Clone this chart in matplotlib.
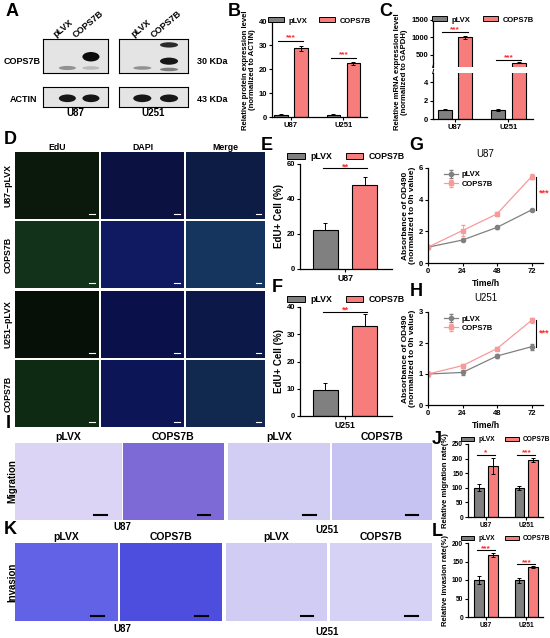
import numpy as np
import matplotlib
matplotlib.use('Agg')
import matplotlib.pyplot as plt
from matplotlib.patches import Patch, Ellipse

plt.rcParams['font.family'] = ['Liberation Sans', 'DejaVu Sans']
plt.rcParams['font.weight'] = 'bold'
plt.rcParams['axes.labelweight'] = 'bold'
plt.rcParams['axes.linewidth'] = 0.9
plt.rcParams['xtick.major.size'] = 2
plt.rcParams['ytick.major.size'] = 2
plt.rcParams['xtick.major.width'] = 0.8
plt.rcParams['ytick.major.width'] = 0.8
plt.rcParams['xtick.labelsize'] = 5.5
plt.rcParams['ytick.labelsize'] = 5.5
plt.rcParams['xtick.major.pad'] = 1.5
plt.rcParams['ytick.major.pad'] = 1.5

# ---- data ----
groups = ['U87', 'U251']
prot_plvx = [1.0, 1.0]
prot_plvx_err = [0.3, 0.3]
prot_cops = [28.7, 22.3]
prot_cops_err = [1.0, 0.6]
prot_sig = ['***', '***']
prot_sig_y = [31.5, 24.5]

mrna_plvx = [1.0, 1.0]
mrna_plvx_err = [0.05, 0.1]
mrna_cops = [1010, 280]
mrna_cops_err = [40, 15]
mrna_sig = ['***', '***']
mrna_sig_y = [1160, 360]

edu_u87 = [22.5, 48.0]
edu_u87_err = [4.0, 4.5]
edu_u251 = [9.5, 33.0]
edu_u251_err = [2.5, 4.5]

time_h = [0, 24, 48, 72]
od_u87_plvx = [1.0, 1.45, 2.25, 3.35]
od_u87_plvx_err = [0.05, 0.08, 0.08, 0.08]
od_u87_cops = [1.0, 2.05, 3.1, 5.45]
od_u87_cops_err = [0.1, 0.35, 0.1, 0.15]
od_u251_plvx = [1.0, 1.05, 1.58, 1.88]
od_u251_plvx_err = [0.05, 0.08, 0.05, 0.1]
od_u251_cops = [1.0, 1.27, 1.82, 2.73]
od_u251_cops_err = [0.05, 0.04, 0.05, 0.07]

mig_plvx = [100, 100]
mig_plvx_err = [12, 6]
mig_cops = [175, 195]
mig_cops_err = [28, 8]
mig_sig = ['*', '***']
mig_sig_y = [214, 214]

inv_plvx = [100, 99]
inv_plvx_err = [12, 6]
inv_cops = [168, 135]
inv_cops_err = [5, 3]
inv_sig = ['***', '***']
inv_sig_y = [181, 143]

GREY = '#808080'
RED = '#f77c7c'
PINK = '#f89a9a'
STAR = '#ff2a2a'

W, H = 550, 638
fig = plt.figure(figsize=(5.5, 6.38), dpi=100)


def px_axes(x0, y0, x1, y1):
    return fig.add_axes([x0 / W, 1 - y1 / H, (x1 - x0) / W, (y1 - y0) / H])


def ftext(x, y, s, **kw):
    kw.setdefault('ha', 'center')
    kw.setdefault('va', 'center')
    fig.text(x / W, 1 - y / H, s, **kw)


def clean(ax):
    ax.spines['top'].set_visible(False)
    ax.spines['right'].set_visible(False)


def legend_bars(ax, y=1.0, fs=5.5):
    h = [Patch(facecolor=GREY, edgecolor='black', lw=0.7),
         Patch(facecolor=RED, edgecolor='black', lw=0.7)]
    ax.legend(h, ['pLVX', 'COPS7B'], ncol=2, loc='center', bbox_to_anchor=(0.5, y),
              frameon=False, fontsize=fs, handlelength=2.0, handleheight=0.6,
              columnspacing=1.6, handletextpad=0.6, borderaxespad=0)


ekw = dict(elinewidth=0.7, capsize=1.6, capthick=0.7, ecolor='black')


def bar_pair(ax, pl, ple, cp, cpe, off, width):
    x = np.arange(len(pl))
    ax.bar(x - off, pl, width, yerr=ple, color=GREY, edgecolor='black', lw=0.8, error_kw=ekw)
    ax.bar(x + off, cp, width, yerr=cpe, color=RED, edgecolor='black', lw=0.8, error_kw=ekw)
    return x


def sig_marks(ax, x, off, ys, marks, dy):
    for xi, yi, m in zip(x, ys, marks):
        ax.plot([xi - off - 0.05, xi + off + 0.05], [yi, yi], color='black', lw=0.8, clip_on=False)
        ax.text(xi, yi + dy, m, color=STAR, ha='center', va='center', fontsize=6, clip_on=False)


# ---- A: western blots ----
# bands: (lane x in 0..4, position from top 0..1, half-height, darkness)
blot_cops = {
    'U87': [(1.5, 0.93, 0.07, 0.35), (2.95, 0.55, 0.16, 1.0), (2.95, 0.93, 0.06, 0.15)],
    'U251': [(1.35, 0.93, 0.06, 0.35), (2.9, 0.15, 0.09, 0.85), (2.9, 0.7, 0.12, 0.95),
             (2.9, 0.98, 0.06, 0.45)],
}
blot_actin = {
    'U87': [(1.5, 0.6, 0.22, 0.95), (2.95, 0.6, 0.22, 0.95)],
    'U251': [(1.35, 0.6, 0.22, 0.95), (2.9, 0.6, 0.22, 0.95)],
}
blot_x = {'U87': (43, 108), 'U251': (119, 188)}
for cell, (x0, x1) in blot_x.items():
    for (y0, y1, bands) in [(39, 73, blot_cops[cell]), (87, 107, blot_actin[cell])]:
        ax = px_axes(x0, y0, x1, y1)
        ax.set_facecolor('#e4e4e4')
        ax.set_xlim(0, 4)
        ax.set_ylim(1.1, -0.05)
        ax.set_xticks([])
        ax.set_yticks([])
        for s in ax.spines.values():
            s.set_linewidth(0.8)
        for lx, ly, hh, dk in bands:
            g = 0.85 - 0.8 * dk
            ax.add_patch(Ellipse((lx, ly), 1.05, 2 * hh, color=(g, g, g), lw=0))
    mid = (x0 + x1) / 2
    ftext(mid, 113, cell, fontsize=7)
    ftext(mid - 12, 28, 'pLVX', fontsize=6.5, rotation=40)
    ftext(mid + 13, 24, 'COPS7B', fontsize=6.5, rotation=40)
ftext(22, 62, 'COPS7B', fontsize=6.5)
ftext(24, 99, 'ACTIN', fontsize=6.5)
ftext(212, 62, '30 KDa', fontsize=6.5)
ftext(212, 99, '43 KDa', fontsize=6.5)

# ---- B: protein ----
axB = px_axes(272, 21, 367, 117)
clean(axB)
x = bar_pair(axB, prot_plvx, prot_plvx_err, prot_cops, prot_cops_err, 0.19, 0.26)
axB.set_xlim(-0.36, 1.45)
axB.set_ylim(0, 40)
axB.set_yticks([0, 10, 20, 30, 40])
axB.set_xticks(x)
axB.set_xticklabels(groups)
sig_marks(axB, x, 0.19, prot_sig_y, prot_sig, 1.6)
legend_bars(axB, y=1.0)
ftext(249, 70, 'Relative protein expression level\n(normalized to ACTIN)', fontsize=5.6, rotation=90,
      linespacing=1.05)

# ---- C: mRNA, broken axis ----
axCu = px_axes(433, 20, 533, 67)
axCl = px_axes(433, 73, 533, 119)
for ax in (axCu, axCl):
    clean(ax)
    bar_pair(ax, mrna_plvx, mrna_plvx_err, mrna_cops, mrna_cops_err, 0.19, 0.26)
    ax.set_xlim(-0.41, 1.46)
axCu.set_ylim(157, 1500)
axCu.set_yticks([500, 1000, 1500])
axCu.spines['bottom'].set_visible(False)
axCu.set_xticks([])
axCl.set_ylim(0, 5)
axCl.set_yticks([0, 2, 4])
axCl.set_xticks([0, 1])
axCl.set_xticklabels(groups)
sig_marks(axCu, np.arange(2), 0.19, mrna_sig_y, mrna_sig, 55)
legend_bars(axCu, y=1.0)
for yb in (67, 73):
    ftext(433, yb, '/', fontsize=6, rotation=0)
ftext(401, 72, 'Relative mRNA expression level\n(normalized to GAPDH)', fontsize=5.6, rotation=90,
      linespacing=1.05)

# ---- D: EdU images ----
d_cols = [(15, 99), (101, 184), (186, 265)]
d_rows = [(152, 219), (221, 288), (291, 358), (360, 427)]
d_colors = [
    ['#0a190b', '#0b1242', '#0d1c45'],
    ['#12331a', '#0f1a60', '#15355f'],
    ['#071007', '#0a114a', '#0c1847'],
    ['#0e2a12', '#0c1656', '#11294f'],
]
for ri, (y0, y1) in enumerate(d_rows):
    for ci, (x0, x1) in enumerate(d_cols):
        ax = px_axes(x0, y0, x1, y1)
        ax.set_facecolor(d_colors[ri][ci])
        ax.set_xticks([])
        ax.set_yticks([])
        for s in ax.spines.values():
            s.set_visible(False)
        ax.plot([0.88, 0.95], [0.07, 0.07], color='white', lw=0.8, transform=ax.transAxes)
for (x0, x1), t in zip(d_cols, ['EdU', 'DAPI', 'Merge']):
    ftext((x0 + x1) / 2, 147, t, fontsize=6.3)
for (y0, y1), t in zip(d_rows, ['U87\u2212pLVX', 'COPS7B', 'U251\u2212pLVX', 'COPS7B']):
    ftext(8, (y0 + y1) / 2, t, fontsize=6.3, rotation=90)

# ---- E / F: EdU quantification ----
for (y0, y1, vals, errs, top, ticks, cell, sy) in [
        (164, 269, edu_u87, edu_u87_err, 60, [0, 20, 40, 60], 'U87', 57.5),
        (307, 416, edu_u251, edu_u251_err, 40, [0, 10, 20, 30, 40], 'U251', 38.3)]:
    ax = px_axes(300, y0, 392, y1)
    clean(ax)
    ax.bar([0, 1], vals, 0.64, yerr=[[0, 0], errs], color=[GREY, RED], edgecolor='black',
           lw=0.8, error_kw=ekw)
    ax.set_xlim(-0.65, 1.7)
    ax.set_ylim(0, top)
    ax.set_yticks(ticks)
    ax.set_xticks([0.5])
    ax.set_xticklabels([cell], fontsize=6.3)
    ax.set_ylabel('EdU+ Cell (%)', fontsize=7, labelpad=2)
    ax.plot([-0.05, 1.05], [sy, sy], color='black', lw=0.8, clip_on=False)
    ax.text(0.5, sy + top * 0.012, '**', color=STAR, ha='center', va='center', fontsize=6.5)
    legend_bars(ax, y=1.07, fs=6.3)

# ---- G / H: growth curves ----
for (y0, y1, pl, ple, cp, cpe, top, ticks, cell) in [
        (168, 263, od_u87_plvx, od_u87_plvx_err, od_u87_cops, od_u87_cops_err, 6, [0, 2, 4, 6], 'U87'),
        (312, 405, od_u251_plvx, od_u251_plvx_err, od_u251_cops, od_u251_cops_err, 3, [0, 1, 2, 3], 'U251')]:
    ax = px_axes(428, y0, 543, y1)
    clean(ax)
    ax.errorbar(time_h, pl, yerr=ple, color=GREY, marker='o', ms=3, lw=0.9,
                elinewidth=0.6, capsize=1.2, label='pLVX')
    ax.errorbar(time_h, cp, yerr=cpe, color=PINK, marker='s', ms=3, lw=0.9,
                elinewidth=0.6, capsize=1.2, label='COPS7B')
    ax.set_xlim(0, 80)
    ax.set_ylim(0, top)
    ax.set_xticks(time_h)
    ax.set_yticks(ticks)
    ax.set_xlabel('Time/h', fontsize=6.3, labelpad=3)
    ax.set_ylabel('Absorbance of OD490\n(normalized to 0h value)', fontsize=6.0, labelpad=2,
                  linespacing=1.0)
    ax.set_title(cell, fontsize=7, pad=8)
    ax.plot([75, 75], [pl[-1], cp[-1]], color='black', lw=0.8, clip_on=False)
    ax.text(80.5, (pl[-1] + cp[-1]) / 2, '***', color=STAR, ha='center', va='center',
            fontsize=6.5, clip_on=False)
    ax.legend(loc='upper left', bbox_to_anchor=(0.08, 1.04), frameon=False, fontsize=5.5,
              handlelength=1.8, labelspacing=0.3, handletextpad=0.5)

# ---- I / K: transwell images ----
tw_cols_i = [(15, 122), (123, 224), (228, 330), (332, 432)]
tw_cols_k = [(15, 118), (120, 222), (226, 327), (330, 432)]
tw_colors_i = ['#dcd4f4', '#7e6ad6', '#d2cdf3', '#c6c2f2']
tw_colors_k = ['#6262e6', '#4e4ede', '#d0ccf4', '#d6d2f5']
for (y0, y1, cols, colors, lab, ylab_y, cells_y) in [
        (443, 520, tw_cols_i, tw_colors_i, 'Migration', 481, 527),
        (543, 621, tw_cols_k, tw_colors_k, 'Invasion', 582, 629)]:
    for (x0, x1), c, t in zip(cols, colors, ['pLVX', 'COPS7B', 'pLVX', 'COPS7B']):
        ax = px_axes(x0, y0, x1, y1)
        ax.set_facecolor(c)
        ax.set_xticks([])
        ax.set_yticks([])
        for s in ax.spines.values():
            s.set_visible(False)
        ax.plot([0.74, 0.86], [0.07, 0.07], color='black', lw=1.5, transform=ax.transAxes)
        ftext((x0 + x1) / 2, y0 - 6, t, fontsize=7.5)
    ftext(12, ylab_y, lab, fontsize=7, rotation=90)
    ftext(122, cells_y, 'U87', fontsize=7)
    ftext(327, cells_y + 3, 'U251', fontsize=7)

# ---- J / L: transwell quantification ----
for (y0, y1, pl, ple, cp, cpe, top, ticks, ylab, sig, sy) in [
        (444, 517, mig_plvx, mig_plvx_err, mig_cops, mig_cops_err, 250, [0, 50, 100, 150, 200, 250],
         'Relative migration rate(%)', mig_sig, mig_sig_y),
        (543, 617, inv_plvx, inv_plvx_err, inv_cops, inv_cops_err, 200, [0, 50, 100, 150, 200],
         'Relative invasion rate(%)', inv_sig, inv_sig_y)]:
    ax = px_axes(468, y0, 543, y1)
    clean(ax)
    x = bar_pair(ax, pl, ple, cp, cpe, 0.17, 0.24)
    ax.set_xlim(-0.44, 1.41)
    ax.set_ylim(0, top)
    ax.set_yticks(ticks)
    ax.set_xticks(x)
    ax.set_xticklabels(groups, fontsize=5)
    ax.tick_params(labelsize=4.8)
    ax.set_ylabel(ylab, fontsize=5.5, labelpad=2)
    sig_marks(ax, x, 0.17, sy, sig, top * 0.02)
    legend_bars(ax, y=1.06, fs=4.8)

# ---- panel letters ----
for s, (xx, yy) in {'A': (12, 12), 'B': (234, 12), 'C': (386, 12), 'D': (10, 140),
                    'E': (267, 145), 'F': (277, 288), 'G': (416, 146), 'H': (416, 292),
                    'I': (8, 423), 'J': (437, 440), 'K': (10, 530), 'L': (437, 532)}.items():
    ftext(xx, yy, s, fontsize=13)

fig.savefig('out.png', dpi=100)
